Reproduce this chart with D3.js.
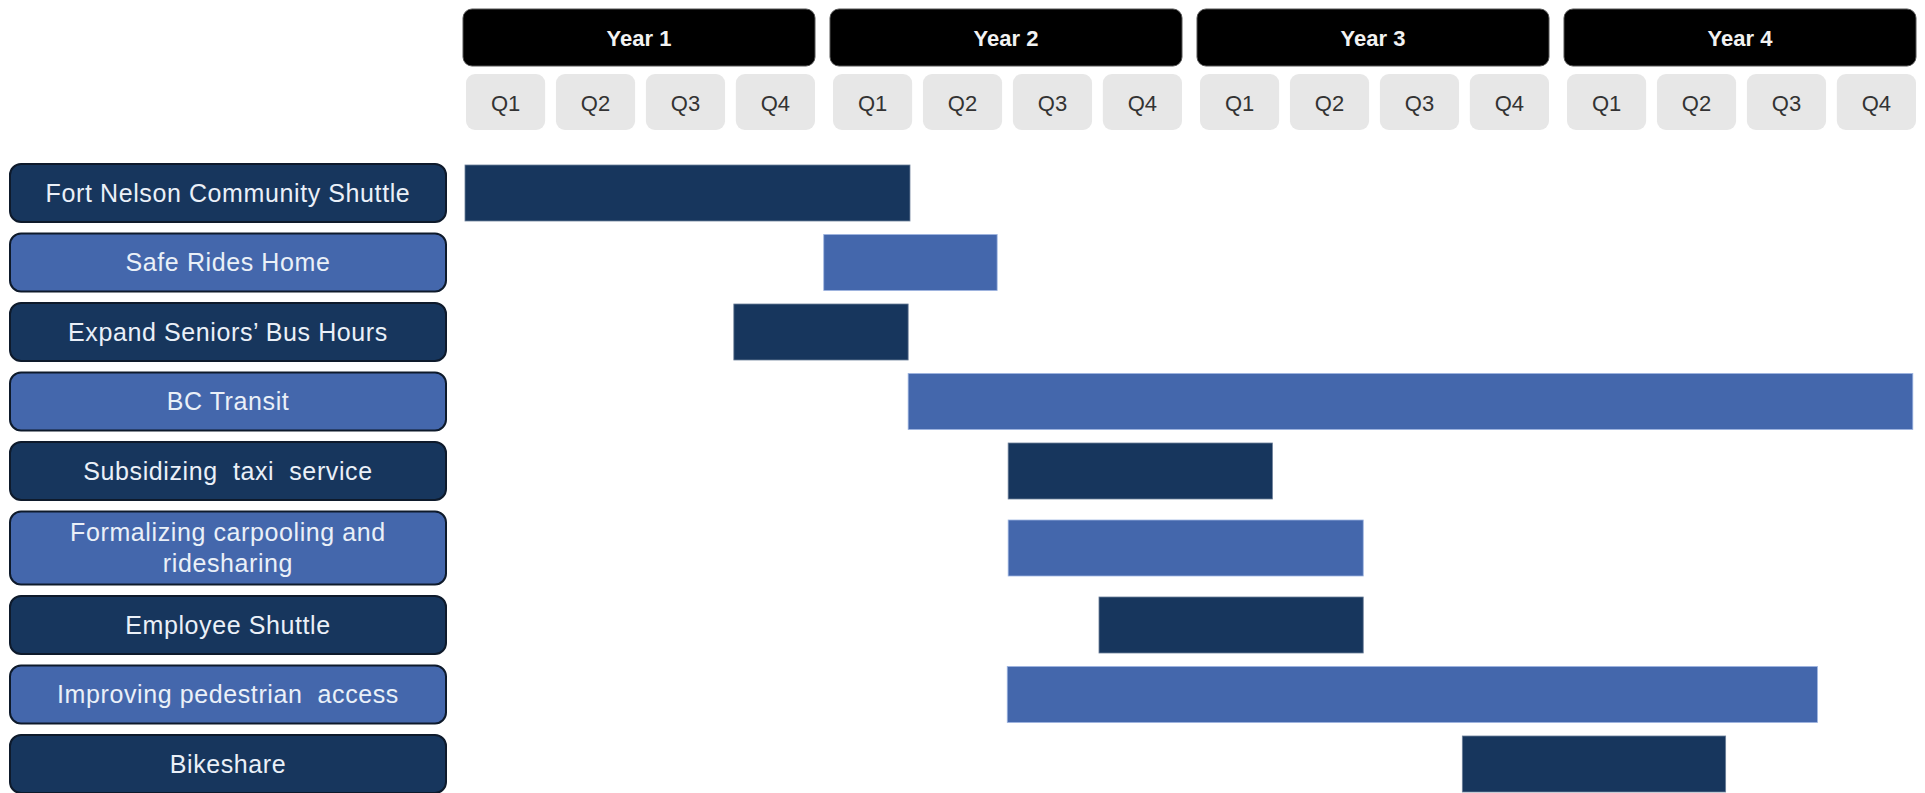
<!DOCTYPE html>
<html>
<head>
<meta charset="utf-8">
<script src="https://cdn.jsdelivr.net/npm/d3@7"></script>
<style>
    body { margin: 0; background: #fff; }
    svg { display: block; }
    text { font-family: "Liberation Sans", Arial, sans-serif; }
</style>
</head>
<body>
<div id="chart"></div>
<script>
// Roadmap data
const years = ['Year 1', 'Year 2', 'Year 3', 'Year 4'];
const quarters = ['Q1', 'Q2', 'Q3', 'Q4'];
const tasks = [
    'Fort Nelson Community Shuttle',
    'Safe Rides Home',
    'Expand Seniors\u2019 Bus Hours',
    'BC Transit',
    'Subsidizing  taxi  service',
    'Formalizing carpooling and\nridesharing',
    'Employee Shuttle',
    'Improving pedestrian  access',
    'Bikeshare'
];
// start / end in quarters from the beginning of Year 1
const startQ = [0, 3.91, 2.93, 4.83, 5.92, 5.92, 6.91, 5.91, 10.87];
const endQ = [4.85, 5.80, 4.83, 15.78, 8.80, 9.79, 9.79, 14.74, 13.74];

const width = 1925;
const height = 793;
const darkBlue = '#17365d';
const lightBlue = '#4467ac';

const svg = d3.select('#chart')
    .append('svg')
    .attr('width', width)
    .attr('height', height);

// Header scales
const yearX = d3.scaleBand()
    .domain(years)
    .range([463, 1916])
    .paddingInner(15 / 367);

const quarterX = d3.scaleBand()
    .domain(quarters)
    .range([3, yearX.bandwidth()])
    .paddingInner(0.12);

// Bar scale (continuous quarters)
const x = d3.scaleLinear()
    .domain([0, 16])
    .range([465, 1933]);

// Year boxes
const yearG = svg.selectAll('.year')
    .data(years)
    .join('g')
    .attr('class', 'year')
    .attr('transform', d => `translate(${yearX(d)},0)`);

yearG.append('rect')
    .attr('y', 9)
    .attr('width', yearX.bandwidth())
    .attr('height', 57)
    .attr('rx', 9)
    .attr('fill', '#000')
    .attr('stroke', '#555')
    .attr('stroke-width', 1);

yearG.append('text')
    .attr('x', yearX.bandwidth() / 2)
    .attr('y', 38)
    .attr('dy', '0.35em')
    .attr('text-anchor', 'middle')
    .attr('fill', '#f2f2f2')
    .style('font-size', '22px')
    .style('font-weight', 'bold')
    .text(d => d);

// Quarter boxes
const qG = yearG.selectAll('.quarter')
    .data(quarters)
    .join('g')
    .attr('class', 'quarter')
    .attr('transform', d => `translate(${quarterX(d)},0)`);

qG.append('rect')
    .attr('y', 74)
    .attr('width', quarterX.bandwidth())
    .attr('height', 56)
    .attr('rx', 9)
    .attr('fill', '#e7e7e7');

qG.append('text')
    .attr('x', quarterX.bandwidth() / 2)
    .attr('y', 103)
    .attr('dy', '0.35em')
    .attr('text-anchor', 'middle')
    .attr('fill', '#333')
    .style('font-size', '22px')
    .text(d => d);

// Row layout: taller box for the two-line label
const boxH = tasks.map(t => t.includes('\n') ? 73 : 58);
const gap = 11.5;
const rowTop = boxH.map((h, i) => 164 + d3.sum(boxH.slice(0, i)) + gap * i);
const barH = 56;

const rows = svg.selectAll('.row')
    .data(tasks)
    .join('g')
    .attr('class', 'row');

// Label boxes
rows.append('rect')
    .attr('x', 10)
    .attr('y', (d, i) => rowTop[i])
    .attr('width', 436)
    .attr('height', (d, i) => boxH[i])
    .attr('rx', 11)
    .attr('fill', (d, i) => i % 2 === 0 ? darkBlue : lightBlue)
    .attr('stroke', '#0e1a2b')
    .attr('stroke-width', 2);

rows.append('text')
    .attr('x', 228)
    .attr('text-anchor', 'middle')
    .attr('fill', '#eaf0f8')
    .style('font-size', '25px')
    .style('letter-spacing', '0.6px')
    .style('white-space', 'pre')
    .each(function(d, i) {
        const lines = d.split('\n');
        const cy = rowTop[i] + boxH[i] / 2;
        const lh = 31;
        d3.select(this).selectAll('tspan')
            .data(lines)
            .join('tspan')
            .attr('x', 228)
            .attr('y', (l, j) => cy + (j - (lines.length - 1) / 2) * lh)
            .attr('dy', '0.35em')
            .text(l => l);
    });

// Gantt bars
rows.append('rect')
    .attr('x', (d, i) => x(startQ[i]))
    .attr('y', (d, i) => rowTop[i] + boxH[i] / 2 - barH / 2)
    .attr('width', (d, i) => x(endQ[i]) - x(startQ[i]))
    .attr('height', barH)
    .attr('fill', (d, i) => i % 2 === 0 ? darkBlue : lightBlue)
    .attr('stroke', (d, i) => i % 2 === 0 ? '#6c7f99' : '#9db4e0')
    .attr('stroke-width', 0.8);
</script>
</body>
</html>
